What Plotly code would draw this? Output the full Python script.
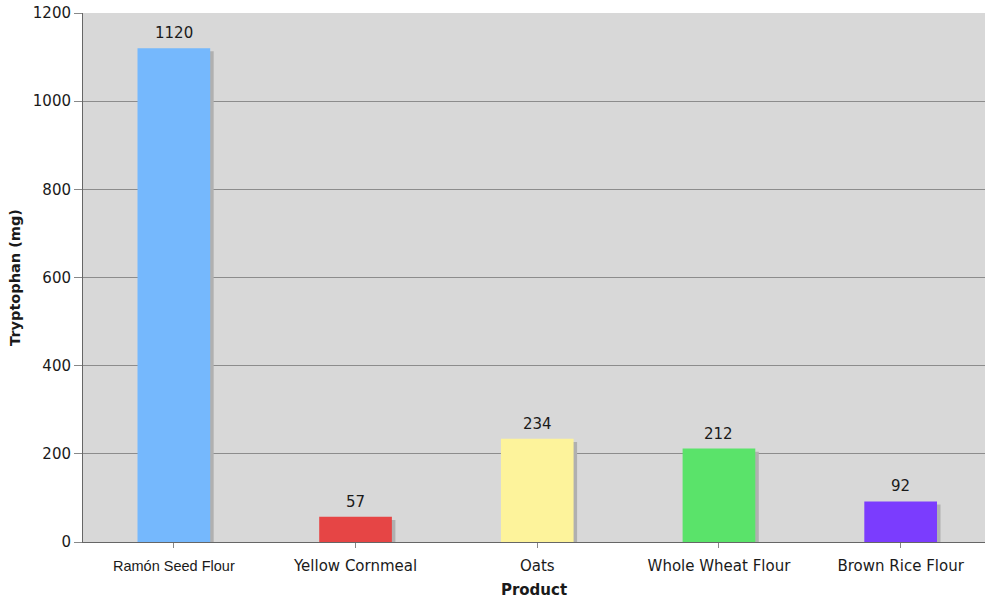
import plotly.graph_objects as go

# Tryptophan content per product
products = ["Ramón Seed Flour", "Yellow Cornmeal", "Oats", "Whole Wheat Flour", "Brown Rice Flour"]
tryptophan_mg = [1120, 57, 234, 212, 92]
bar_colors = ["#75b8fd", "#e64545", "#fdf39b", "#5ae36a", "#7b3cfe"]
y_ticks = [0, 200, 400, 600, 800, 1000, 1200]

# first label is set in a sans face different from the rest
tick_text = ['<span style="font-family:Liberation Sans, Arial;font-size:14.5px">' + products[0] + '</span>'] + products[1:]

x_idx = list(range(len(products)))

fig = go.Figure()

# drop shadow behind each bar
fig.add_trace(go.Bar(
    x=x_idx, y=tryptophan_mg, base=[-7] * len(products),
    width=0.4, offset=-0.2 + 3.5 / 181.7,
    marker=dict(color="#b0b0b0", line=dict(width=0)),
    hoverinfo="skip", showlegend=False,
))

fig.add_trace(go.Bar(
    x=x_idx, y=tryptophan_mg,
    width=0.4, offset=-0.2,
    marker=dict(color=bar_colors, line=dict(width=0)),
    showlegend=False,
))

# value labels above the bars
for i, v in zip(x_idx, tryptophan_mg):
    fig.add_annotation(
        x=i, y=v, text=str(v), showarrow=False,
        yanchor="middle", yshift=15,
        font=dict(family="DejaVu Sans", size=15, color="#1a1a1a"),
    )

fig.update_layout(
    width=985, height=602,
    margin=dict(l=83, r=0, t=13, b=60),
    paper_bgcolor="white", plot_bgcolor="#d8d8d8",
    barmode="overlay",
    font=dict(family="DejaVu Sans", size=15, color="#1a1a1a"),
    xaxis=dict(
        range=[-0.5, 4.5 - 6.5 / 181.7],
        tickmode="array", tickvals=x_idx, ticktext=tick_text,
        tickson="boundaries", ticks="outside", ticklen=5, tickcolor="#888888",
        ticklabelstandoff=5,
        showgrid=False, showline=True, linecolor="#666666", linewidth=1,
        title=dict(text="<b>Product</b>", font=dict(size=15), standoff=10),
        zeroline=False,
    ),
    yaxis=dict(
        range=[0, 1200], tickvals=y_ticks,
        ticks="outside", ticklen=8, tickcolor="#888888",
        showgrid=True, gridcolor="#8c8c8c", gridwidth=1,
        showline=True, linecolor="#666666", linewidth=1,
        zeroline=False,
        title=dict(text="<b>Tryptophan (mg)</b>", font=dict(size=14.5), standoff=8),
    ),
)

fig.write_html("out.html")
